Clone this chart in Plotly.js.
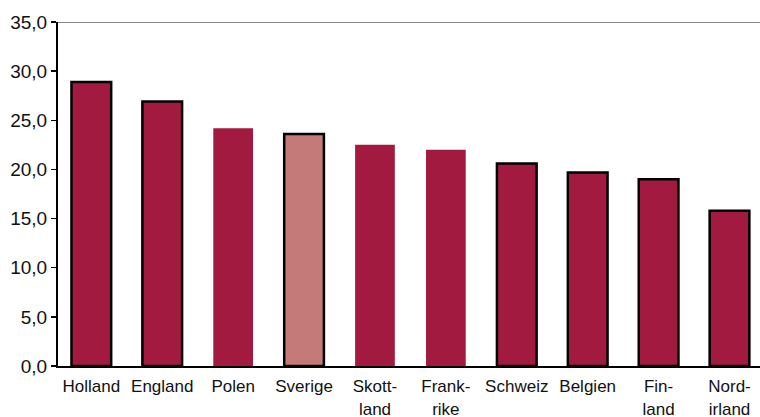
<!DOCTYPE html>
<html><head><meta charset="utf-8">
<script src="https://cdn.plot.ly/plotly-3.0.1.min.js"></script>
<style>html,body{margin:0;padding:0;background:#fff}#c{width:760px;height:417px}</style>
</head><body><div id="c"></div>
<script>
const categories = ["Holland","England","Polen","Sverige","Skott-<br>land","Frank-<br>rike","Schweiz","Belgien","Fin-<br>land","Nord-<br>irland"];
const values = [28.9, 26.9, 24.2, 23.6, 22.5, 22.0, 20.6, 19.7, 19.0, 15.8];
const barColors = ["#A31A40","#A31A40","#A31A40","#C47A78","#A31A40","#A31A40","#A31A40","#A31A40","#A31A40","#A31A40"];
const outlineWidths = [2.5,2.5,0,2.5,0,0,2.5,2.5,2.5,2.5];
const yTicks = [0,5,10,15,20,25,30,35];

Plotly.newPlot('c', [{
  type: 'bar', x: categories, y: values,
  marker: {color: barColors, line: {color: '#000', width: outlineWidths}},
  width: 0.56, hoverinfo: 'none'
}], {
  width: 760, height: 417,
  margin: {l: 58, r: 0, t: 22, b: 51},
  paper_bgcolor: '#fff', plot_bgcolor: '#fff',
  separators: ',.',
  showlegend: false,
  font: {family: 'Liberation Sans, Arial, sans-serif', color: '#111'},
  xaxis: {range: [-0.47, 9.43], showgrid: false, zeroline: false, showline: true,
          linecolor: '#000', linewidth: 2, ticks: '', tickfont: {size: 17}, ticklabelstandoff: 4, fixedrange: true},
  yaxis: {range: [0, 35], tickvals: yTicks, tickformat: '.1f', showgrid: false, zeroline: false,
          showline: true, linecolor: '#000', linewidth: 2, ticks: 'outside', ticklen: 5,
          tickwidth: 1.5, tickcolor: '#000', tickfont: {size: 19}, fixedrange: true},
  shapes: [{type: 'line', xref: 'paper', yref: 'y', x0: 0, x1: 1, y0: 35, y1: 35,
            line: {color: '#888', width: 2}}]
}, {staticPlot: true});
</script></body></html>
